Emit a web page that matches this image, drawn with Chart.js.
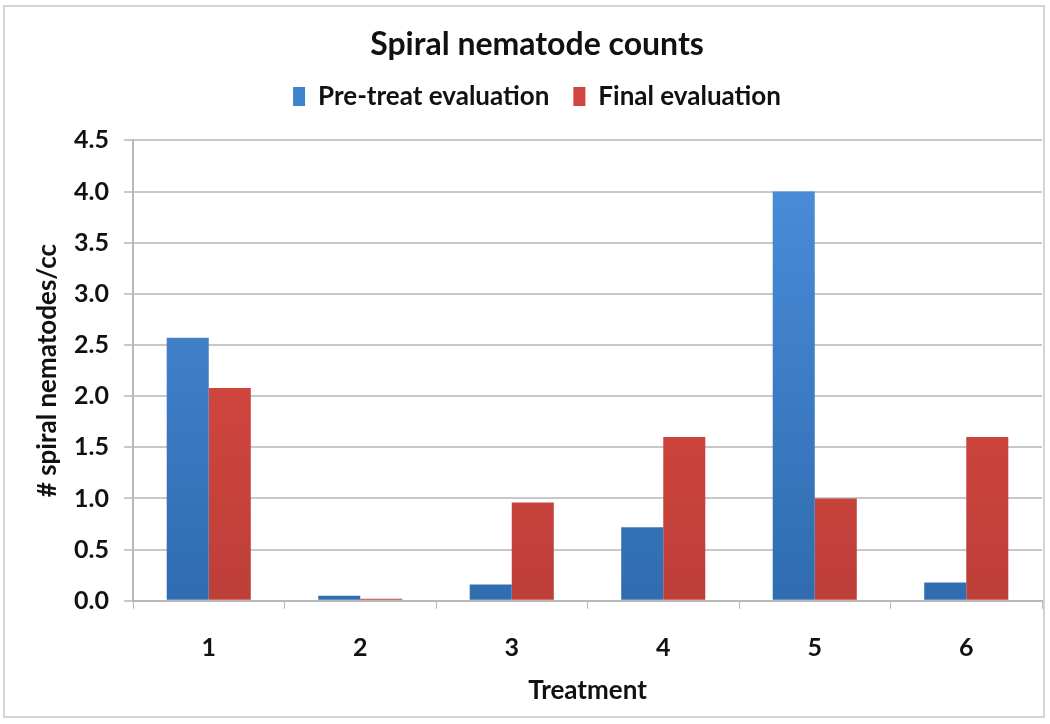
<!DOCTYPE html>
<html>
<head>
<meta charset="utf-8">
<script src="https://cdn.jsdelivr.net/npm/chart.js@4.4.0/dist/chart.umd.min.js"></script>
<style>
  html, body { margin: 0; padding: 0; background: #ffffff; }
  #wrap { position: absolute; left: 0; top: 0; width: 1050px; height: 724px; }
  #frame { position: absolute; left: 3px; top: 5px; width: 1042px; height: 713px;
           border: 2px solid #d4d4d4; box-sizing: border-box; pointer-events: none; }
</style>
</head>
<body>
<div id="wrap">
  <canvas id="chart" width="1050" height="724"></canvas>
  <div id="frame"></div>
</div>
<script>
// data
var treatments = ['1', '2', '3', '4', '5', '6'];
var preTreat = [2.57, 0.05, 0.16, 0.72, 4.0, 0.18];
var finalEval = [2.08, 0.02, 0.96, 1.6, 1.0, 1.6];

var FONT = 'Lato, "Open Sans", sans-serif';
var LEGEND_GAP = 21;

// vertical gradient across the plot area, lighter at top
function barGradient(top, bottom) {
  return function (context) {
    var area = context.chart.chartArea;
    if (!area) return bottom;
    var g = context.chart.ctx.createLinearGradient(0, area.top, 0, area.bottom);
    g.addColorStop(0, top);
    g.addColorStop(1, bottom);
    return g;
  };
}

// extra room between legend and plot
var legendSpacer = {
  id: 'legendSpacer',
  beforeInit: function (chart) {
    var origFit = chart.legend.fit;
    chart.legend.fit = function () {
      origFit.call(this);
      this.height += LEGEND_GAP;
    };
  },
};

new Chart(document.getElementById('chart'), {
  type: 'bar',
  data: {
    labels: treatments,
    datasets: [
      {
        label: 'Pre-treat evaluation',
        data: preTreat,
        backgroundColor: barGradient('#4c8fdc', '#2f6cb0'),
        categoryPercentage: 0.555,
        barPercentage: 1.0,
      },
      {
        label: 'Final evaluation',
        data: finalEval,
        backgroundColor: barGradient('#e44c45', '#bd3f38'),
        categoryPercentage: 0.555,
        barPercentage: 1.0,
      },
    ],
  },
  plugins: [legendSpacer],
  options: {
    responsive: false,
    animation: false,
    layout: { padding: { left: 32, right: 8, top: 25, bottom: 18 } },
    plugins: {
      title: {
        display: true,
        text: 'Spiral nematode counts',
        color: '#111111',
        font: { family: FONT, size: 32, weight: 'bold' },
        padding: { top: 0, bottom: -4 },
      },
      legend: {
        labels: {
          color: '#111111',
          font: { family: FONT, size: 26, weight: 'bold' },
          boxWidth: 12,
          boxHeight: 19,
          padding: 24,
          generateLabels: function (chart) {
            var solid = ['#3f82d0', '#d0453f'];
            return chart.data.datasets.map(function (ds, i) {
              return {
                text: ds.label,
                fillStyle: solid[i],
                strokeStyle: solid[i],
                lineWidth: 0,
                datasetIndex: i,
                fontColor: '#111111',
              };
            });
          },
        },
      },
      tooltip: { enabled: false },
    },
    scales: {
      x: {
        grid: {
          offset: true,
          drawOnChartArea: false,
          color: '#b8b8b8',
          tickLength: 8,
        },
        border: { color: '#b8b8b8', width: 2 },
        ticks: {
          color: '#111111',
          font: { family: FONT, size: 25, weight: 'bold' },
          padding: 24,
        },
        title: {
          display: true,
          text: 'Treatment',
          color: '#111111',
          font: { family: FONT, size: 26, weight: 'bold' },
          padding: { top: 0, bottom: 0 },
        },
        afterFit: function (scale) {
          scale.height -= 12;
        },
      },
      y: {
        min: 0,
        max: 4.5,
        grid: { color: '#c8c8c8', lineWidth: 2, tickLength: 9 },
        border: { color: '#b8b8b8', width: 2 },
        ticks: {
          stepSize: 0.5,
          color: '#111111',
          font: { family: FONT, size: 25, weight: 'bold' },
          padding: 15,
          callback: function (value) {
            return value.toFixed(1);
          },
        },
        title: {
          display: true,
          text: '# spiral nematodes/cc',
          color: '#111111',
          font: { family: FONT, size: 26, weight: 'bold' },
          padding: { top: 0, bottom: 4 },
        },
        afterFit: function (scale) {
          scale.width = 101;
        },
      },
    },
  },
});
</script>
</body>
</html>
